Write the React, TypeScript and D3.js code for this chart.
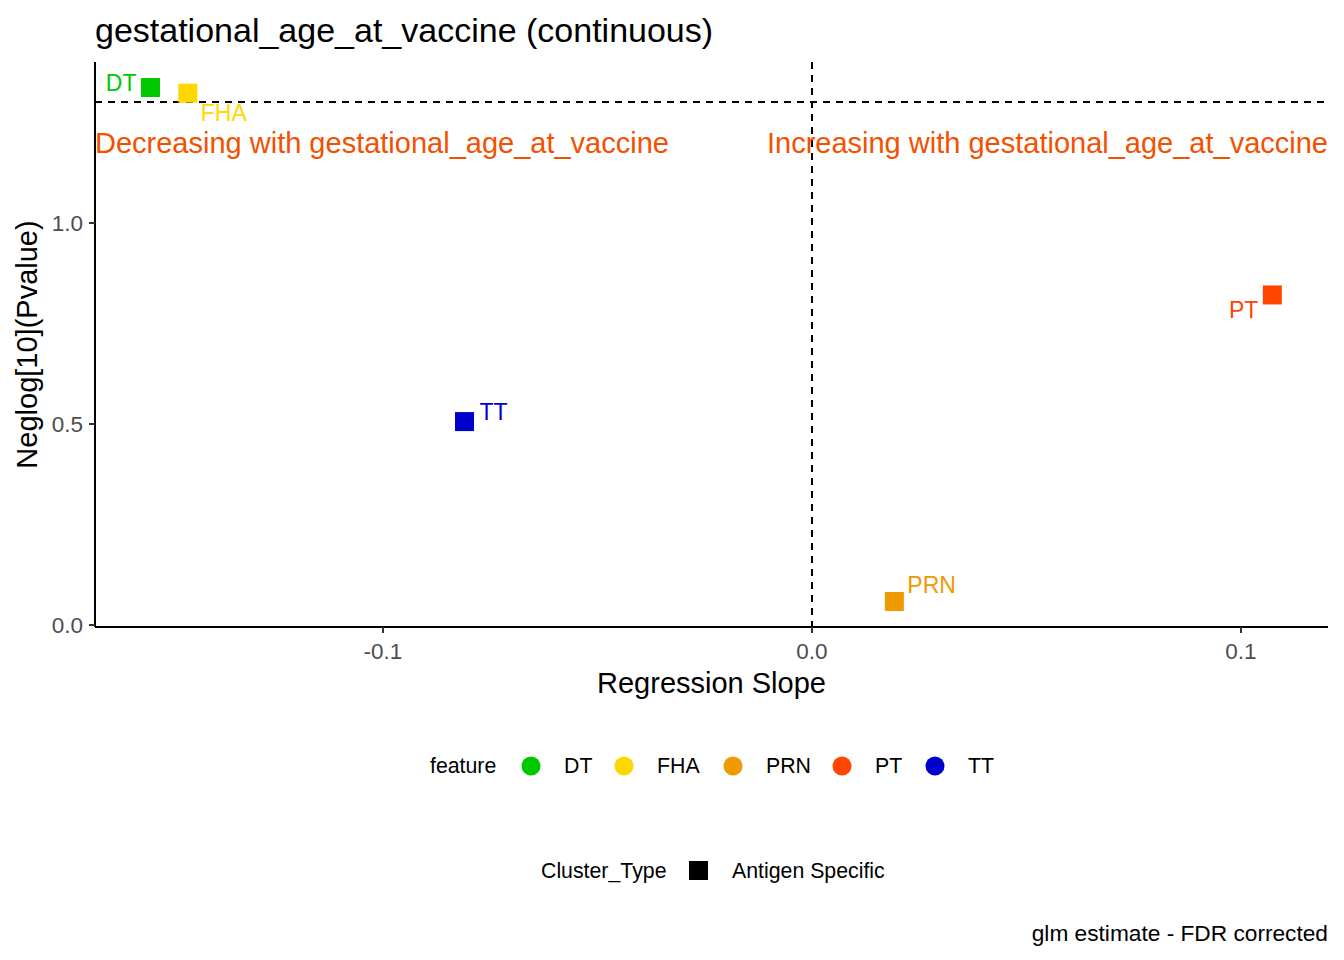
import { useEffect, useRef } from 'react';
import * as d3 from 'd3';

const features = ['DT', 'FHA', 'PRN', 'PT', 'TT'];
const slopes = [-0.1542, -0.1455, 0.0192, 0.1073, -0.081];
const negLogP = [1.337, 1.323, 0.0585, 0.821, 0.506];
const featureColors = ['#00C800', '#FFD700', '#EE9A00', '#FF4500', '#0000CD'];
const xTicks = [-0.1, 0.0, 0.1];
const yTicks = [0.0, 0.5, 1.0];
const pThreshold = 1.301;

// label offsets (px) roughly mimic ggrepel placement
const labelOffsets = {
  DT: { dx: -14, dy: 3, anchor: 'end' },
  FHA: { dx: 13, dy: 28, anchor: 'start' },
  PRN: { dx: 13, dy: -8, anchor: 'start' },
  PT: { dx: -14, dy: 23, anchor: 'end' },
  TT: { dx: 15, dy: -2, anchor: 'start' },
};

export default function App() {
  const ref = useRef<SVGSVGElement>(null);
  const width = 1344;
  const height = 960;

  useEffect(() => {
    if (!ref.current) return;
    const svg = d3.select(ref.current);
    svg.selectAll('*').remove();
    const font = 'Liberation Sans, Arial, sans-serif';
    svg.attr('font-family', font);

    const left = 95, right = 1328, top = 62, bottom = 627;
    const x = d3.scaleLinear().domain([-0.1, 0.1]).range([383, 1241]);
    const y = d3.scaleLinear().domain([0, 1]).range([625, 223]);

    // title
    svg.append('text').attr('x', left).attr('y', 42).attr('font-size', 34).attr('fill', '#000')
      .text('gestational_age_at_vaccine (continuous)');

    // reference lines
    svg.append('line').attr('x1', left).attr('x2', right).attr('y1', y(pThreshold)).attr('y2', y(pThreshold))
      .attr('stroke', '#000').attr('stroke-width', 2).attr('stroke-dasharray', '7 6');
    svg.append('line').attr('x1', x(0)).attr('x2', x(0)).attr('y1', top).attr('y2', bottom)
      .attr('stroke', '#000').attr('stroke-width', 2).attr('stroke-dasharray', '7 6');

    // annotations
    const annColor = '#F35000';
    svg.append('text').attr('x', left).attr('y', y(1.2)).attr('dy', '0.35em').attr('font-size', 29)
      .attr('fill', annColor).text('Decreasing with gestational_age_at_vaccine');
    svg.append('text').attr('x', right).attr('y', y(1.2)).attr('dy', '0.35em').attr('font-size', 29)
      .attr('text-anchor', 'end').attr('fill', annColor).text('Increasing with gestational_age_at_vaccine');

    // points
    const pts = features.map((f, i) => ({ f, sx: slopes[i], sy: negLogP[i], c: featureColors[i] }));
    const sq = 19;
    svg.append('g').selectAll('rect').data(pts).join('rect')
      .attr('x', (d) => x(d.sx) - sq / 2).attr('y', (d) => y(d.sy) - sq / 2)
      .attr('width', sq).attr('height', sq).attr('fill', (d) => d.c);
    svg.append('g').selectAll('text').data(pts).join('text')
      .attr('x', (d) => x(d.sx) + labelOffsets[d.f].dx).attr('y', (d) => y(d.sy) + labelOffsets[d.f].dy)
      .attr('text-anchor', (d) => labelOffsets[d.f].anchor)
      .attr('font-size', 23).attr('fill', (d) => d.c).text((d) => d.f);

    // axes
    const gx = svg.append('g').attr('transform', `translate(0,${bottom})`);
    gx.append('line').attr('x1', left).attr('x2', right).attr('stroke', '#000').attr('stroke-width', 2);
    xTicks.forEach((t) => {
      gx.append('line').attr('x1', x(t)).attr('x2', x(t)).attr('y1', 0).attr('y2', 6).attr('stroke', '#333').attr('stroke-width', 2);
      gx.append('text').attr('x', x(t)).attr('y', 32).attr('text-anchor', 'middle').attr('font-size', 22.5)
        .attr('fill', '#4D4D4D').text(d3.format('.1f')(t).replace('−', '-'));
    });
    const gy = svg.append('g').attr('transform', `translate(${left},0)`);
    gy.append('line').attr('y1', top).attr('y2', bottom).attr('stroke', '#000').attr('stroke-width', 2);
    yTicks.forEach((t) => {
      gy.append('line').attr('x1', -6).attr('x2', 0).attr('y1', y(t)).attr('y2', y(t)).attr('stroke', '#333').attr('stroke-width', 2);
      gy.append('text').attr('x', -12).attr('y', y(t)).attr('dy', '0.35em').attr('text-anchor', 'end').attr('font-size', 22.5)
        .attr('fill', '#4D4D4D').text(d3.format('.1f')(t));
    });

    svg.append('text').attr('x', (left + right) / 2).attr('y', 693).attr('text-anchor', 'middle')
      .attr('font-size', 29).text('Regression Slope');
    svg.append('text').attr('transform', `translate(37,${(top + bottom) / 2}) rotate(-90)`)
      .attr('text-anchor', 'middle').attr('font-size', 29).text('Neglog[10](Pvalue)');

    // feature legend
    const lg = svg.append('g').attr('font-size', 21.3);
    lg.append('text').attr('x', 430).attr('y', 766).attr('dy', '0.35em').text('feature');
    const circX = [531, 624, 733, 842, 935];
    features.forEach((f, i) => {
      lg.append('circle').attr('cx', circX[i]).attr('cy', 766).attr('r', 9.5).attr('fill', featureColors[i]);
      lg.append('text').attr('x', circX[i] + 33).attr('y', 766).attr('dy', '0.35em').text(f);
    });

    // cluster type legend
    lg.append('text').attr('x', 541).attr('y', 871).attr('dy', '0.35em').text('Cluster_Type');
    lg.append('rect').attr('x', 689).attr('y', 861).attr('width', 19).attr('height', 19).attr('fill', '#000');
    lg.append('text').attr('x', 732).attr('y', 871).attr('dy', '0.35em').text('Antigen Specific');

    // caption
    svg.append('text').attr('x', right).attr('y', 941).attr('text-anchor', 'end').attr('font-size', 22.7)
      .text('glm estimate - FDR corrected');
  }, []);

  return <svg ref={ref} width={width} height={height} style={{ position: 'absolute', left: 0, top: 0, background: '#fff' }} />;
}
